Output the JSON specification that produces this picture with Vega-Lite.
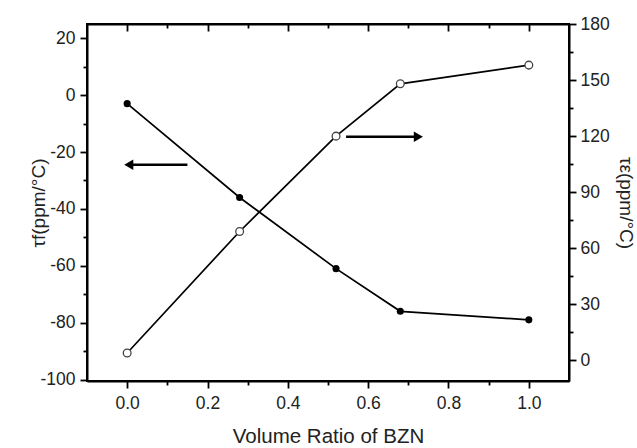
{
  "$schema": "https://vega.github.io/schema/vega-lite/v6.json",
  "width": 482,
  "height": 357,
  "autosize": {"type": "none"},
  "padding": {"left": 87, "top": 24, "right": 68, "bottom": 67},
  "background": "white",
  "config": {
    "view": {"stroke": "black", "strokeWidth": 2},
    "axis": {
      "grid": false,
      "domainColor": "black",
      "domainWidth": 2,
      "tickColor": "black",
      "tickWidth": 1.8,
      "labelFont": "Liberation Sans",
      "titleFont": "Liberation Sans",
      "labelFontSize": 17.5,
      "titleFontSize": 19,
      "titleFontWeight": "normal",
      "labelColor": "#222",
      "titleColor": "#222"
    }
  },
  "datasets": {
    "tf": [
      {"x": 0.0, "y": -3},
      {"x": 0.28, "y": -36},
      {"x": 0.52, "y": -61},
      {"x": 0.68, "y": -76},
      {"x": 1.0, "y": -79}
    ],
    "te": [
      {"x": 0.0, "y": 4},
      {"x": 0.28, "y": 69},
      {"x": 0.52, "y": 120},
      {"x": 0.68, "y": 148},
      {"x": 1.0, "y": 158}
    ],
    "arrows": [
      {"x": 0.15, "xe": 0.005, "y": -24.5, "dir": "left"},
      {"x": 0.545, "xe": 0.72, "y": -14.6, "dir": "right"}
    ],
    "heads": [
      {"x": 0.004, "y": -24.5, "dir": "left"},
      {"x": 0.725, "y": -14.6, "dir": "right"}
    ]
  },
  "layer": [
    {
      "encoding": {
        "x": {
          "field": "x",
          "type": "quantitative",
          "scale": {"domain": [-0.1, 1.1], "nice": false, "zero": false},
          "axis": {
            "orient": "bottom",
            "title": "Volume Ratio of BZN",
            "titleFontSize": 20.5,
            "titlePadding": 15,
            "values": [0, 0.1, 0.2, 0.3, 0.4, 0.5, 0.6, 0.7, 0.8, 0.9, 1.0],
            "format": ".1f",
            "labelExpr": "round(datum.value*10) % 2 == 0 ? datum.label : ''",
            "tickSize": {"condition": {"test": "round(datum.value*10) % 2 == 0", "value": 7}, "value": 4},
            "labelPadding": 6
          }
        },
        "y": {
          "field": "y",
          "type": "quantitative",
          "scale": {"domain": [-100.5, 25], "nice": false, "zero": false},
          "axis": {
            "orient": "left",
            "title": "τf(ppm/°C)",
            "values": [-100, -90, -80, -70, -60, -50, -40, -30, -20, -10, 0, 10, 20],
            "labelExpr": "round(datum.value) % 20 == 0 ? toString(datum.value) : ''",
            "tickSize": {"condition": {"test": "round(datum.value) % 20 == 0", "value": 7}, "value": 4},
            "labelPadding": 5,
            "titlePadding": -9
          }
        }
      },
      "layer": [
        {
          "data": {"name": "tf"},
          "mark": {"type": "line", "color": "black", "strokeWidth": 1.7}
        },
        {
          "data": {"name": "tf"},
          "mark": {"type": "point", "shape": "circle", "filled": true, "color": "black", "size": 50, "opacity": 1}
        },
        {
          "data": {"name": "arrows"},
          "mark": {"type": "rule", "color": "black", "strokeWidth": 2.5},
          "encoding": {"x2": {"field": "xe"}}
        },
        {
          "data": {"name": "heads"},
          "transform": [{"filter": "datum.dir == 'left'"}],
          "mark": {"type": "point", "shape": "triangle-left", "filled": true, "color": "black", "size": 110, "opacity": 1}
        },
        {
          "data": {"name": "heads"},
          "transform": [{"filter": "datum.dir == 'right'"}],
          "mark": {"type": "point", "shape": "triangle-right", "filled": true, "color": "black", "size": 110, "opacity": 1}
        }
      ]
    },
    {
      "data": {"name": "te"},
      "encoding": {
        "x": {
          "field": "x",
          "type": "quantitative",
          "scale": {"domain": [-0.1, 1.1], "nice": false, "zero": false},
          "axis": {
            "orient": "top",
            "title": null,
            "values": [0, 0.1, 0.2, 0.3, 0.4, 0.5, 0.6, 0.7, 0.8, 0.9, 1.0],
            "labels": false,
            "tickSize": {"condition": {"test": "round(datum.value*10) % 2 == 0", "value": -7}, "value": -4}
          }
        },
        "y": {
          "field": "y",
          "type": "quantitative",
          "scale": {"domain": [-11, 180], "nice": false, "zero": false},
          "axis": {
            "orient": "right",
            "title": "τε(ppm/°C)",
            "titleAngle": 90,
            "values": [0, 15, 30, 45, 60, 75, 90, 105, 120, 135, 150, 165, 180],
            "labelExpr": "round(datum.value) % 30 == 0 ? datum.label : ''",
            "tickSize": {"condition": {"test": "round(datum.value) % 30 == 0", "value": 7}, "value": 4},
            "labelPadding": 4,
            "titlePadding": 6
          }
        }
      },
      "layer": [
        {"mark": {"type": "line", "color": "black", "strokeWidth": 1.7}},
        {"mark": {"type": "point", "shape": "circle", "filled": true, "fill": "white", "stroke": "#444", "strokeWidth": 1.3, "size": 60, "opacity": 1}}
      ]
    }
  ],
  "resolve": {"scale": {"x": "independent", "y": "independent"}}
}
